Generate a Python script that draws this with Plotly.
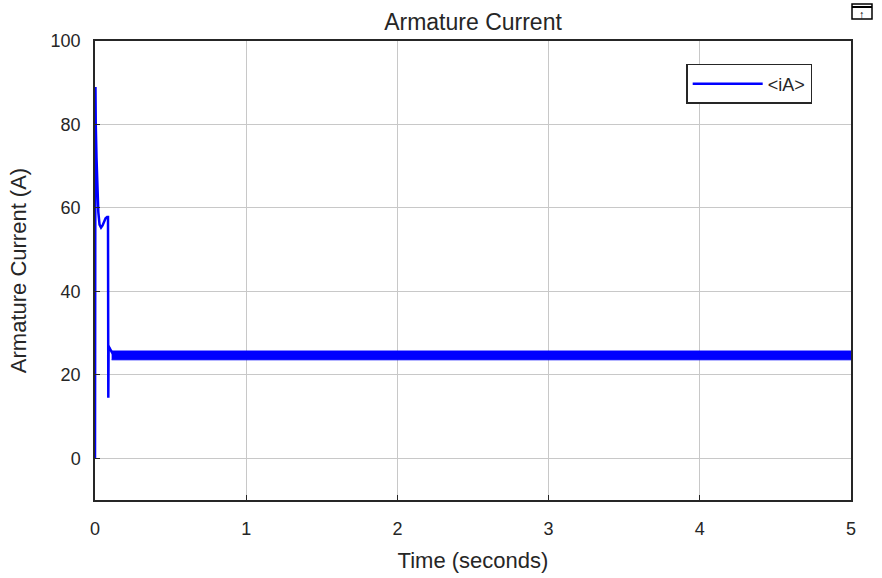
import plotly.graph_objects as go

# Transient part of armature current (A) vs time (s)
t_transient = [0, 0.003, 0.005, 0.01, 0.015, 0.02, 0.022, 0.03, 0.04, 0.05, 0.06, 0.07,
               0.08, 0.086, 0.088, 0.09, 0.095, 0.10, 0.11, 0.12]
i_transient = [0, 89, 80, 72, 65, 61, 59, 56, 55.3, 55.8, 56.5, 57.5,
               57.8, 57.8, 14.5, 26.9, 26.5, 26.0, 25.5, 25.0]

# Steady-state ripple envelope
t_steady = [0.11, 5.0]
i_upper = [25.7, 25.7]
i_lower = [23.6, 23.6]

x_ticks = [0, 1, 2, 3, 4, 5]
y_ticks = [0, 20, 40, 60, 80, 100]

BLUE = "#0000ff"
FONT = "Liberation Sans, Arial, sans-serif"
TXT = "#262626"

fig = go.Figure()
fig.add_trace(go.Scatter(x=t_steady, y=i_lower, mode="lines",
                         line=dict(color=BLUE, width=1), showlegend=False,
                         hoverinfo="skip"))
fig.add_trace(go.Scatter(x=t_steady, y=i_upper, mode="lines", fill="tonexty",
                         fillcolor=BLUE, line=dict(color=BLUE, width=1),
                         showlegend=False, hoverinfo="skip"))
fig.add_trace(go.Scatter(x=t_transient, y=i_transient, mode="lines",
                         line=dict(color=BLUE, width=2.5), name="&lt;iA&gt;"))

axis_common = dict(showline=True, linecolor=TXT, linewidth=1.5, mirror=True,
                   showgrid=True, gridcolor="#c8c8c8", gridwidth=1,
                   ticks="inside", ticklen=5, tickcolor=TXT, automargin=False,
                   zeroline=False, tickfont=dict(family=FONT, size=18, color=TXT))

fig.update_xaxes(range=[0, 5], tickvals=x_ticks, ticklabelstandoff=12,
                 title=dict(text="Time (seconds)", font=dict(family=FONT, size=22, color=TXT), standoff=14),
                 **axis_common)
fig.update_yaxes(range=[-10, 100], tickvals=y_ticks, ticklabelstandoff=9,
                 title=dict(text="Armature Current (A)", font=dict(family=FONT, size=22, color=TXT), standoff=18),
                 **axis_common)

fig.update_layout(
    width=882, height=578,
    margin=dict(l=95, r=31, t=41, b=78),
    paper_bgcolor="white", plot_bgcolor="white",
    title=dict(text="Armature Current", x=0.5, xref="paper", xanchor="center",
               y=1 - 22 / 578, yanchor="middle",
               font=dict(family=FONT, size=23, color=TXT)),
    legend=dict(x=0.782, y=0.950, xanchor="left", yanchor="top",
                bgcolor="white", bordercolor=TXT, borderwidth=1.5, itemwidth=70,
                font=dict(family=FONT, size=18, color=TXT)),
    showlegend=True,
)

# Small toolbar icon at top right
fig.add_shape(type="rect", xref="paper", yref="paper",
              x0=(851 - 95) / 756 + 1 / 756, x1=(872 - 95) / 756,
              y0=1 + (41 - 19) / 459, y1=1 + (41 - 4) / 459,
              line=dict(color="black", width=1.5), fillcolor="white")
fig.add_shape(type="line", xref="paper", yref="paper",
              x0=(851 - 95) / 756 + 1 / 756, x1=(872 - 95) / 756,
              y0=1 + (41 - 7) / 459, y1=1 + (41 - 7) / 459,
              line=dict(color="black", width=2))
fig.add_annotation(xref="paper", yref="paper", x=(861.5 - 95) / 756, y=1 + (41 - 13) / 459,
                   text="<b>↑</b>", showarrow=False, font=dict(size=11, color="black"),
                   xanchor="center", yanchor="middle")

fig.write_html("out.html")
